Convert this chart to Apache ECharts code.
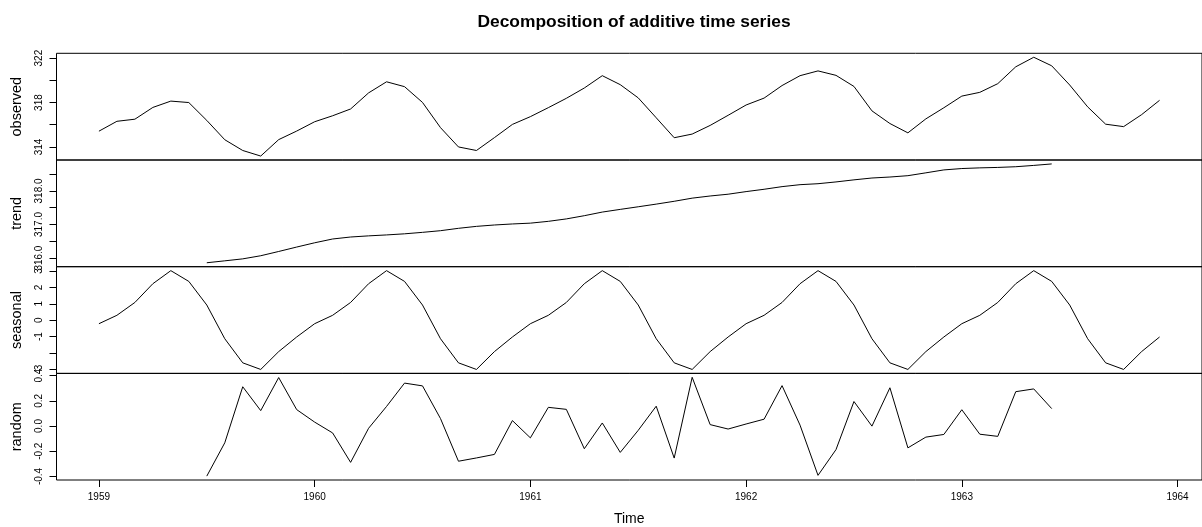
<!DOCTYPE html>
<html>
<head>
<meta charset="utf-8">
<script src="https://cdn.jsdelivr.net/npm/echarts@6/dist/echarts.min.js"></script>
<style>
html,body{margin:0;padding:0;background:#fff;}
#chart{width:1202px;height:527px;}
</style>
</head>
<body>
<div id="chart"></div>
<script>
// ---- data (monthly, Jan 1959 .. Dec 1963) ----
const startYear = 1959;
const observed = [
  315.42,316.31,316.50,317.56,318.13,318.00,316.39,314.65,313.68,313.18,314.66,315.43,
  316.27,316.81,317.42,318.87,319.87,319.43,318.01,315.74,314.00,313.68,314.84,316.03,
  316.73,317.54,318.38,319.31,320.42,319.61,318.42,316.63,314.83,315.16,315.94,316.85,
  317.78,318.40,319.53,320.42,320.85,320.45,319.45,317.25,316.11,315.27,316.53,317.53,
  318.58,318.92,319.70,321.22,322.08,321.31,319.58,317.61,316.05,315.83,316.91,318.20
];
const trend = [
  null,null,null,null,null,null,315.861,315.918,315.977,316.070,316.197,316.329,
  316.456,316.569,316.628,316.662,316.690,316.723,316.767,316.816,316.887,316.945,316.986,317.017,
  317.041,317.095,317.167,317.263,317.371,317.451,317.529,317.608,317.692,317.786,317.850,317.903,
  317.981,318.050,318.129,318.187,318.216,318.269,318.331,318.386,318.415,318.455,318.540,318.627,
  318.668,318.688,318.701,318.722,318.761,318.805,null,null,null,null,null,null
];
const seasonal = [
  -0.217,0.297,1.081,2.226,3.025,2.368,0.925,-1.135,-2.608,-3.012,-1.921,-1.029,
  -0.217,0.297,1.081,2.226,3.025,2.368,0.925,-1.135,-2.608,-3.012,-1.921,-1.029,
  -0.217,0.297,1.081,2.226,3.025,2.368,0.925,-1.135,-2.608,-3.012,-1.921,-1.029,
  -0.217,0.297,1.081,2.226,3.025,2.368,0.925,-1.135,-2.608,-3.012,-1.921,-1.029,
  -0.217,0.297,1.081,2.226,3.025,2.368,0.925,-1.135,-2.608,-3.012,-1.921,-1.029
];
const random = [
  null,null,null,null,null,null,-0.397,-0.133,0.311,0.122,0.384,0.130,
  0.031,-0.055,-0.288,-0.018,0.155,0.340,0.318,0.059,-0.279,-0.253,-0.225,0.043,
  -0.094,0.148,0.132,-0.180,0.024,-0.209,-0.034,0.157,-0.254,0.386,0.011,-0.024,
  0.016,0.054,0.320,0.007,-0.391,-0.187,0.194,-0.001,0.303,-0.173,-0.088,-0.067,
  0.129,-0.065,-0.082,0.272,0.294,0.138,null,null,null,null,null,null
];
const panelNames = ['observed','trend','seasonal','random'];
const xTicks = [1959,1960,1961,1962,1963,1964];
const obsTicks = [314,316,318,320,322];
const obsLabels = [314,318,322];
const trendTicks = [316,316.5,317,317.5,318,318.5];
const trendLabels = [316,317,318];
const seasTicks = [-3,-2,-1,0,1,2,3];
const seasLabels = [-3,-1,0,1,2,3];
const randTicks = [-0.4,-0.2,0,0.2,0.4];
const randLabels = [-0.4,-0.2,0,0.2,0.4];

// ---- layout / scales ----
const xMin = 1958.80333, xMax = 1964.11333;
const yLimits = [[312.824,322.436],[315.7435,318.9223],[-3.2533,3.2666],[-0.42778,0.41687]];
const tickSets = [obsTicks, trendTicks, seasTicks, randTicks];
const labelSets = [obsLabels, trendLabels, seasLabels, randLabels];
const fmts = [v => String(v), v => v.toFixed(1), v => String(v), v => v.toFixed(1)];
const seriesData = [observed, trend, seasonal, random];

const FONT = 'Liberation Sans, Arial, Helvetica, sans-serif';
const gLeft = 56.5, gWidth = 1156, gTop = 53.3, gH = 106.7;

const grids = [], xAxes = [], yAxes = [], series = [];
for (let k = 0; k < 4; k++) {
  grids.push({
    left: gLeft, width: gWidth, top: gTop + k * gH, height: gH,
    show: true, borderColor: '#000', borderWidth: 1, backgroundColor: 'transparent'
  });
  const bottom = (k === 3);
  xAxes.push({
    gridIndex: k, type: 'value', min: xMin, max: xMax,
    show: true, position: 'bottom',
    axisLine: { show: false, onZero: false },
    splitLine: { show: false },
    axisTick: bottom ? { show: true, inside: false, length: 7, customValues: xTicks, lineStyle: { color: '#000', width: 1 } } : { show: false },
    axisLabel: bottom ? { show: true, customValues: xTicks, margin: 12, fontSize: 10, color: '#000', fontFamily: FONT, formatter: v => String(v) } : { show: false },
    name: bottom ? 'Time' : '',
    nameLocation: 'middle', nameGap: 32,
    nameTextStyle: { fontSize: 14, color: '#000', fontFamily: FONT }
  });
  yAxes.push({
    gridIndex: k, type: 'value', min: yLimits[k][0], max: yLimits[k][1],
    position: 'left',
    axisLine: { show: false, onZero: false },
    splitLine: { show: false },
    axisTick: { show: true, inside: false, length: 7, customValues: tickSets[k], lineStyle: { color: '#000', width: 1 } },
    axisLabel: { show: true, customValues: labelSets[k], rotate: 90, margin: 12, fontSize: 10, color: '#000', fontFamily: FONT, formatter: fmts[k] },
    name: panelNames[k], nameLocation: 'middle', nameGap: 32, nameRotate: 90,
    nameTextStyle: { fontSize: 14.5, color: '#000', fontFamily: FONT }
  });
  series.push({
    type: 'line', xAxisIndex: k, yAxisIndex: k,
    data: seriesData[k].map((v, i) => [startYear + i / 12, v]),
    showSymbol: false, symbol: 'none', connectNulls: false,
    lineStyle: { color: '#000', width: 1 },
    animation: false, silent: true
  });
}

const chart = echarts.init(document.getElementById('chart'), null, { renderer: 'canvas' });
chart.setOption({
  backgroundColor: '#fff',
  animation: false,
  grid: grids, xAxis: xAxes, yAxis: yAxes, series: series,
  graphic: [{
    type: 'text', x: 634, y: 22,
    style: { text: 'Decomposition of additive time series', fontSize: 17.4, fontWeight: 'bold', fill: '#000', fontFamily: FONT, align: 'center', verticalAlign: 'middle' }
  }]
});
</script>
</body>
</html>
